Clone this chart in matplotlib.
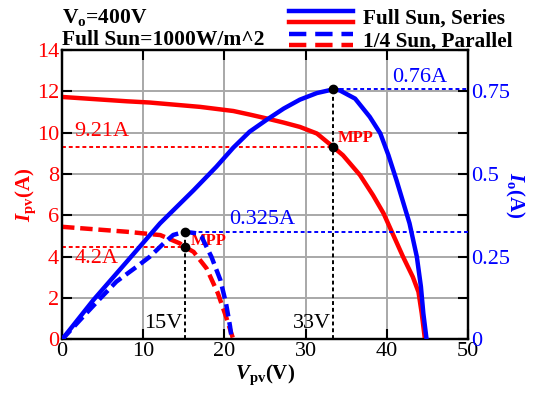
import matplotlib
matplotlib.use("Agg")
import matplotlib.pyplot as plt
from matplotlib.lines import Line2D
from matplotlib.legend_handler import HandlerBase

plt.rcParams['font.family'] = ['Liberation Serif', 'DejaVu Serif']
plt.rcParams['mathtext.fontset'] = 'custom'
plt.rcParams['mathtext.rm'] = 'Liberation Serif'
plt.rcParams['mathtext.it'] = 'Liberation Serif:italic'
plt.rcParams['mathtext.bf'] = 'Liberation Serif:bold'
plt.rcParams['mathtext.bfit'] = 'Liberation Serif:bold:italic'

# Full sun, series: PV current (left axis)
v_full_ipv = [0, 8.0, 10.8, 17.0, 21.1, 23.1, 25.2, 27.3, 29.3, 31.4, 33.4, 34.6, 36.7, 38.3,
              39.6, 40.8, 42.0, 43.2, 43.9, 44.3, 44.7]
i_full_ipv = [11.73, 11.52, 11.46, 11.25, 11.05, 10.88, 10.69, 10.49, 10.28, 9.96, 9.31, 8.91, 7.95, 6.98,
              6.1, 5.05, 4.0, 3.03, 2.3, 1.27, 0.0]
# Full sun, series: output current (right axis)
v_full_io = [0, 3.85, 7.97, 12.07, 16.2, 19.0, 21.1, 23.1, 25.2, 27.3, 29.3, 31.4, 33.4, 34.2, 36.1,
             37.9, 39.2, 40.2, 41.2, 42.0, 42.8, 43.7, 44.2, 44.5, 44.9]
i_full_io = [0, 0.119, 0.235, 0.351, 0.451, 0.522, 0.58, 0.628, 0.664, 0.698, 0.725, 0.745, 0.756, 0.753, 0.728,
             0.673, 0.623, 0.557, 0.481, 0.416, 0.351, 0.25, 0.16, 0.079, 0.0]
# 1/4 sun, parallel: PV current
v_q_ipv = [0, 8.0, 12.1, 14.5, 15.1, 16.2, 17.8, 19.2, 20.2, 21.1]
i_q_ipv = [5.45, 5.21, 5.05, 4.65, 4.48, 4.24, 3.44, 2.23, 1.1, 0.0]
# 1/4 sun, parallel: output current
v_q_io = [0, 2.6, 4.7, 6.7, 9.2, 10.8, 12.5, 13.7, 15.1, 16.6, 17.2, 18.4, 19.5, 20.2, 20.7, 20.9]
i_q_io = [0, 0.069, 0.124, 0.175, 0.22, 0.25, 0.29, 0.316, 0.3256, 0.321, 0.31, 0.25, 0.18, 0.109, 0.039, 0.0]

mpp_v = [15.1, 33.4]
mpp_ipv = [4.48, 9.31]
mpp_io = [0.3256, 0.756]
mpp_v_labels = ['15V', '33V']
mpp_ipv_labels = ['4.2A', '9.21A']
mpp_io_labels = ['0.325A', '0.76A']

left_ticks = [0, 2, 4, 6, 8, 10, 12, 14]
right_ticks = [0, 0.125, 0.25, 0.375, 0.5, 0.625, 0.75, 0.875]
right_labels = ['0', '', '0.25', '', '0.5', '', '0.75', '']
x_ticks = [0, 10, 20, 30, 40, 50]

RED = '#ff0000'
BLUE = '#0000ff'
DASH = (0, (2.8, 1.3))
DOT = (0, (2, 1.5))

fig = plt.figure(figsize=(5.37, 3.96), dpi=100)
ax = fig.add_axes([0.1155, 0.1427, 0.756, 0.731])
ax2 = ax.twinx()

ax.set_xlim(0, 50)
ax.set_ylim(0, 14)
ax2.set_ylim(0, 0.875)

ax.grid(True, color='#a8a8a8', lw=1.4, zorder=0)
ax.set_axisbelow(True)
ax.set_xticks(x_ticks)
ax.set_yticks(left_ticks)
ax2.set_yticks(right_ticks)
ax2.set_yticklabels(right_labels)

ax.tick_params(axis='both', direction='in', length=7, width=1.5, labelsize=16, top=True, pad=2)
ax.tick_params(axis='y', labelcolor=RED, left=True, right=False)
ax2.tick_params(axis='y', direction='in', length=7, width=1.5, labelsize=16, labelcolor=BLUE, pad=2)
for a in (ax, ax2):
    for s in a.spines.values():
        s.set_linewidth(1.6)
        s.set_color('black')

lw = 3.2
ax.plot(v_full_ipv, i_full_ipv, color=RED, lw=lw, zorder=3, solid_joinstyle='round')
ax.plot(v_q_ipv, i_q_ipv, color=RED, lw=lw, ls=DASH, zorder=3)
ax2.plot(v_full_io, i_full_io, color=BLUE, lw=lw, zorder=3, solid_joinstyle='round')
ax2.plot(v_q_io, i_q_io, color=BLUE, lw=lw, ls=DASH, zorder=3)

# MPP guide lines
for v, ip, io, vl in zip(mpp_v, mpp_ipv, mpp_io, mpp_v_labels):
    ax.plot([0, v], [ip, ip], color=RED, lw=1.4, ls=DOT, zorder=4)
    ax2.plot([v, 50], [io, io], color=BLUE, lw=1.4, ls=DOT, zorder=4)
    ax.plot([v, v], [0, io * 16], color='black', lw=1.4, ls=DOT, zorder=4)
    ax.plot([v], [ip], 'o', color='black', ms=6, zorder=6)
    ax2.plot([v], [io], 'o', color='black', ms=6, zorder=6)
    ax.text(v - 0.3, 0.3, vl, ha='right', va='bottom', fontsize=16, color='black', zorder=5)

ax.text(15.9, 4.48 + 0.3, 'MPP', ha='left', va='center', fontsize=12, color=RED, fontweight='bold', zorder=5)
ax.text(34.0, 9.31 + 0.45, 'MPP', ha='left', va='center', fontsize=12, color=RED, fontweight='bold', zorder=5)

ax.text(1.5, 3.94, mpp_ipv_labels[0], ha='left', va='center', fontsize=16, color=RED, zorder=5)
ax.text(1.5, 10.05, mpp_ipv_labels[1], ha='left', va='center', fontsize=16, color=RED, zorder=5)
ax2.text(20.6, 0.3256 + 0.007, mpp_io_labels[0], ha='left', va='bottom', fontsize=16, color=BLUE, zorder=5)
ax2.text(40.7, 0.756 + 0.007, mpp_io_labels[1], ha='left', va='bottom', fontsize=16, color=BLUE, zorder=5)

ax.set_xlabel(r'$\boldsymbol{V}_{\mathbf{pv}}$(V)', fontsize=15, fontweight='bold', labelpad=1)
ax.set_ylabel(r'$\boldsymbol{I}_{\mathbf{pv}}$(A)', fontsize=15, fontweight='bold', color=RED, labelpad=-1)
ax2.set_ylabel(r'$\boldsymbol{I}_{\mathbf{o}}$(A)', fontsize=15, fontweight='bold', color=BLUE,
               rotation=270, labelpad=12)

# top-left info text
fig.text(62 / 537, 1 - 18 / 396, r'V$_\mathbf{o}$=400V', fontsize=15.5, fontweight='bold', va='center', ha='left')
fig.text(62 / 537, 1 - 40 / 396, 'Full Sun=1000W/m^2', fontsize=15.5, fontweight='bold', va='center', ha='left')

# legend with two-colour lines
class TwoColor(HandlerBase):
    def __init__(self, ls):
        super().__init__()
        self.ls = ls
    def create_artists(self, legend, orig_handle, xdescent, ydescent, width, height, fontsize, trans):
        y1 = height * 0.5 + 3.7
        y2 = height * 0.5 - 3.7
        l1 = Line2D([-xdescent, -xdescent + width], [y1, y1], color=BLUE, lw=3.2, ls=self.ls, transform=trans)
        l2 = Line2D([-xdescent, -xdescent + width], [y2, y2], color=RED, lw=3.2, ls=self.ls, transform=trans)
        return [l1, l2]

h1 = Line2D([], [])
h2 = Line2D([], [])
fig.legend([h1, h2], ['Full Sun, Series', '1/4 Sun, Parallel'],
           handler_map={h1: TwoColor('-'), h2: TwoColor((0, (3.9, 2.0)))},
           loc='upper left', bbox_to_anchor=(274 / 537, 1 + 6 / 396), frameon=False,
           prop={'weight': 'bold', 'size': 15.3}, handlelength=3.0, handletextpad=0.5,
           labelspacing=0.15, borderpad=0.2)

fig.savefig('out.png', dpi=100)
